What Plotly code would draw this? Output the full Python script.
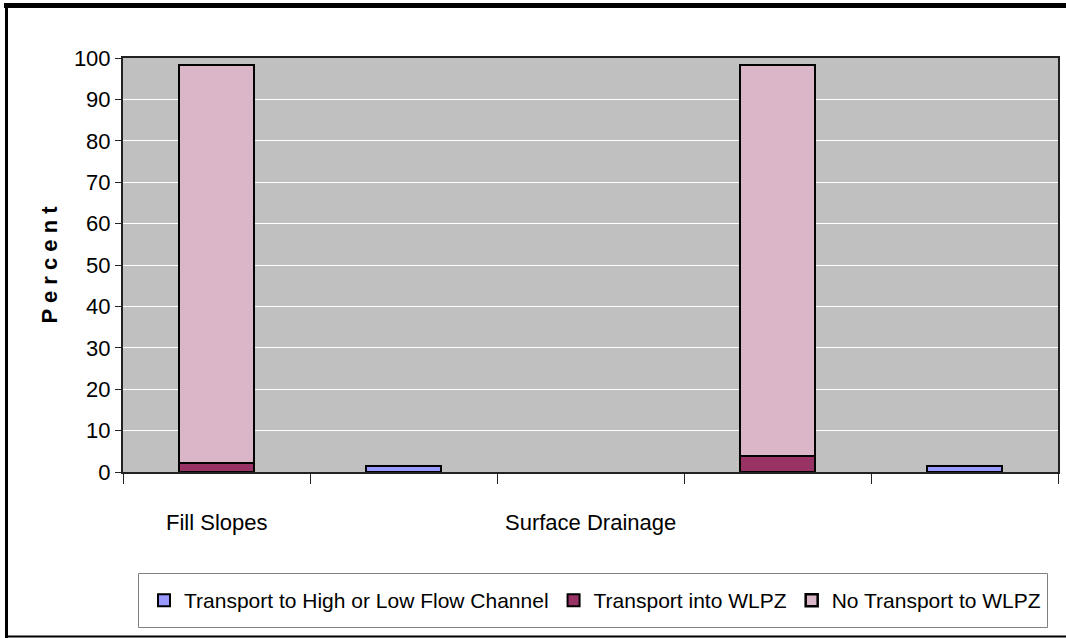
import plotly.graph_objects as go

# Category labels and series values (percent)
categories = ["Fill Slopes", "Surface Drainage"]
high_low_channel = [1.5, 1.5]      # Transport to High or Low Flow Channel
into_wlpz = [2.2, 3.9]             # Transport into WLPZ
no_transport = [96.1, 94.4]        # No Transport to WLPZ
y_ticks = list(range(0, 101, 10))

series_names = [
    "Transport to High or Low Flow Channel",
    "Transport into WLPZ",
    "No Transport to WLPZ",
]

# Slot layout on the category axis: five equal slots, the stacked column for
# each category in its own slot and the channel column in the slot after it.
stack_slots = [0.5, 3.5]
channel_slots = [1.5, 4.5]
label_slots = [0.5, 2.5]
bar_width = 0.4

FONT = "Liberation Sans, Arial, sans-serif"
W, H = 1066, 638
L, R, T, B = 123, 8, 58, 166
PW, PH = W - L - R, H - T - B


def px(x):
    return (x - L) / PW


def py(y):
    return (H - B - y) / PH


fig = go.Figure()

fig.add_trace(go.Bar(
    name=series_names[0], x=channel_slots, y=high_low_channel, width=bar_width,
    marker=dict(color="#9999FF", line=dict(color="black", width=2)),
))
fig.add_trace(go.Bar(
    name=series_names[1], x=stack_slots, y=into_wlpz, width=bar_width,
    marker=dict(color="#993366", line=dict(color="black", width=2)),
))
fig.add_trace(go.Bar(
    name=series_names[2], x=stack_slots, y=no_transport, width=bar_width,
    marker=dict(
        color="white",
        line=dict(color="black", width=2.5),
        pattern=dict(shape=".", fgcolor="#993366", bgcolor="white",
                     size=2, solidity=0.35, fillmode="replace"),
    ),
))

for slot, label in zip(label_slots, categories):
    fig.add_annotation(
        x=slot, xref="x", y=py(522), yref="paper", text=label,
        showarrow=False, xanchor="center", yanchor="middle",
        font=dict(family=FONT, size=22, color="black"),
    )

# Outer chart frame
frame = dict(type="line", xref="paper", yref="paper", layer="above")
fig.add_shape(**frame, x0=px(4), x1=px(W + 5), y0=py(5.5), y1=py(5.5),
              line=dict(color="black", width=5))
fig.add_shape(**frame, x0=px(6.5), x1=px(6.5), y0=py(3), y1=py(638),
              line=dict(color="black", width=3))
fig.add_shape(**frame, x0=px(5), x1=px(W + 5), y0=py(636.5), y1=py(636.5),
              line=dict(color="black", width=2))

# Legend box behind the (borderless) legend
fig.add_shape(type="rect", xref="paper", yref="paper", layer="below",
              x0=px(138.5), x1=px(1047.5), y0=py(573.5), y1=py(627.5),
              fillcolor="white", line=dict(color="#808080", width=1))

fig.update_layout(
    width=W, height=H,
    margin=dict(l=L, r=R, t=T, b=B, autoexpand=False),
    barmode="stack",
    bargap=0,
    paper_bgcolor="white",
    plot_bgcolor="#C0C0C0",
    font=dict(family=FONT, size=22, color="black"),
    xaxis=dict(
        range=[0, 5], tickvals=list(range(6)), ticktext=[""] * 6,
        ticks="outside", ticklen=10, tickwidth=1, tickcolor="#222",
        showline=True, linecolor="#222", linewidth=2, mirror=True,
        showgrid=False, zeroline=False, automargin=False,
    ),
    yaxis=dict(
        range=[0, 100], tickvals=y_ticks,
        ticks="outside", ticklen=6, tickwidth=1, tickcolor="#222",
        showline=True, linecolor="#222", linewidth=2, mirror=True,
        showgrid=True, gridcolor="white", gridwidth=1, zeroline=False,
        automargin=False,
        tickfont=dict(family=FONT, size=22),
        title=dict(text="P e r c e n t",
                   font=dict(family=FONT, size=22, weight="bold"),
                   standoff=10),
    ),
    legend=dict(
        orientation="h", traceorder="normal",
        x=px(1046), y=py(600.5), xanchor="right", yanchor="middle",
        bgcolor="rgba(0,0,0,0)", borderwidth=0,
        font=dict(family=FONT, size=21), itemwidth=30,
    ),
)

fig.write_html("out.html")
